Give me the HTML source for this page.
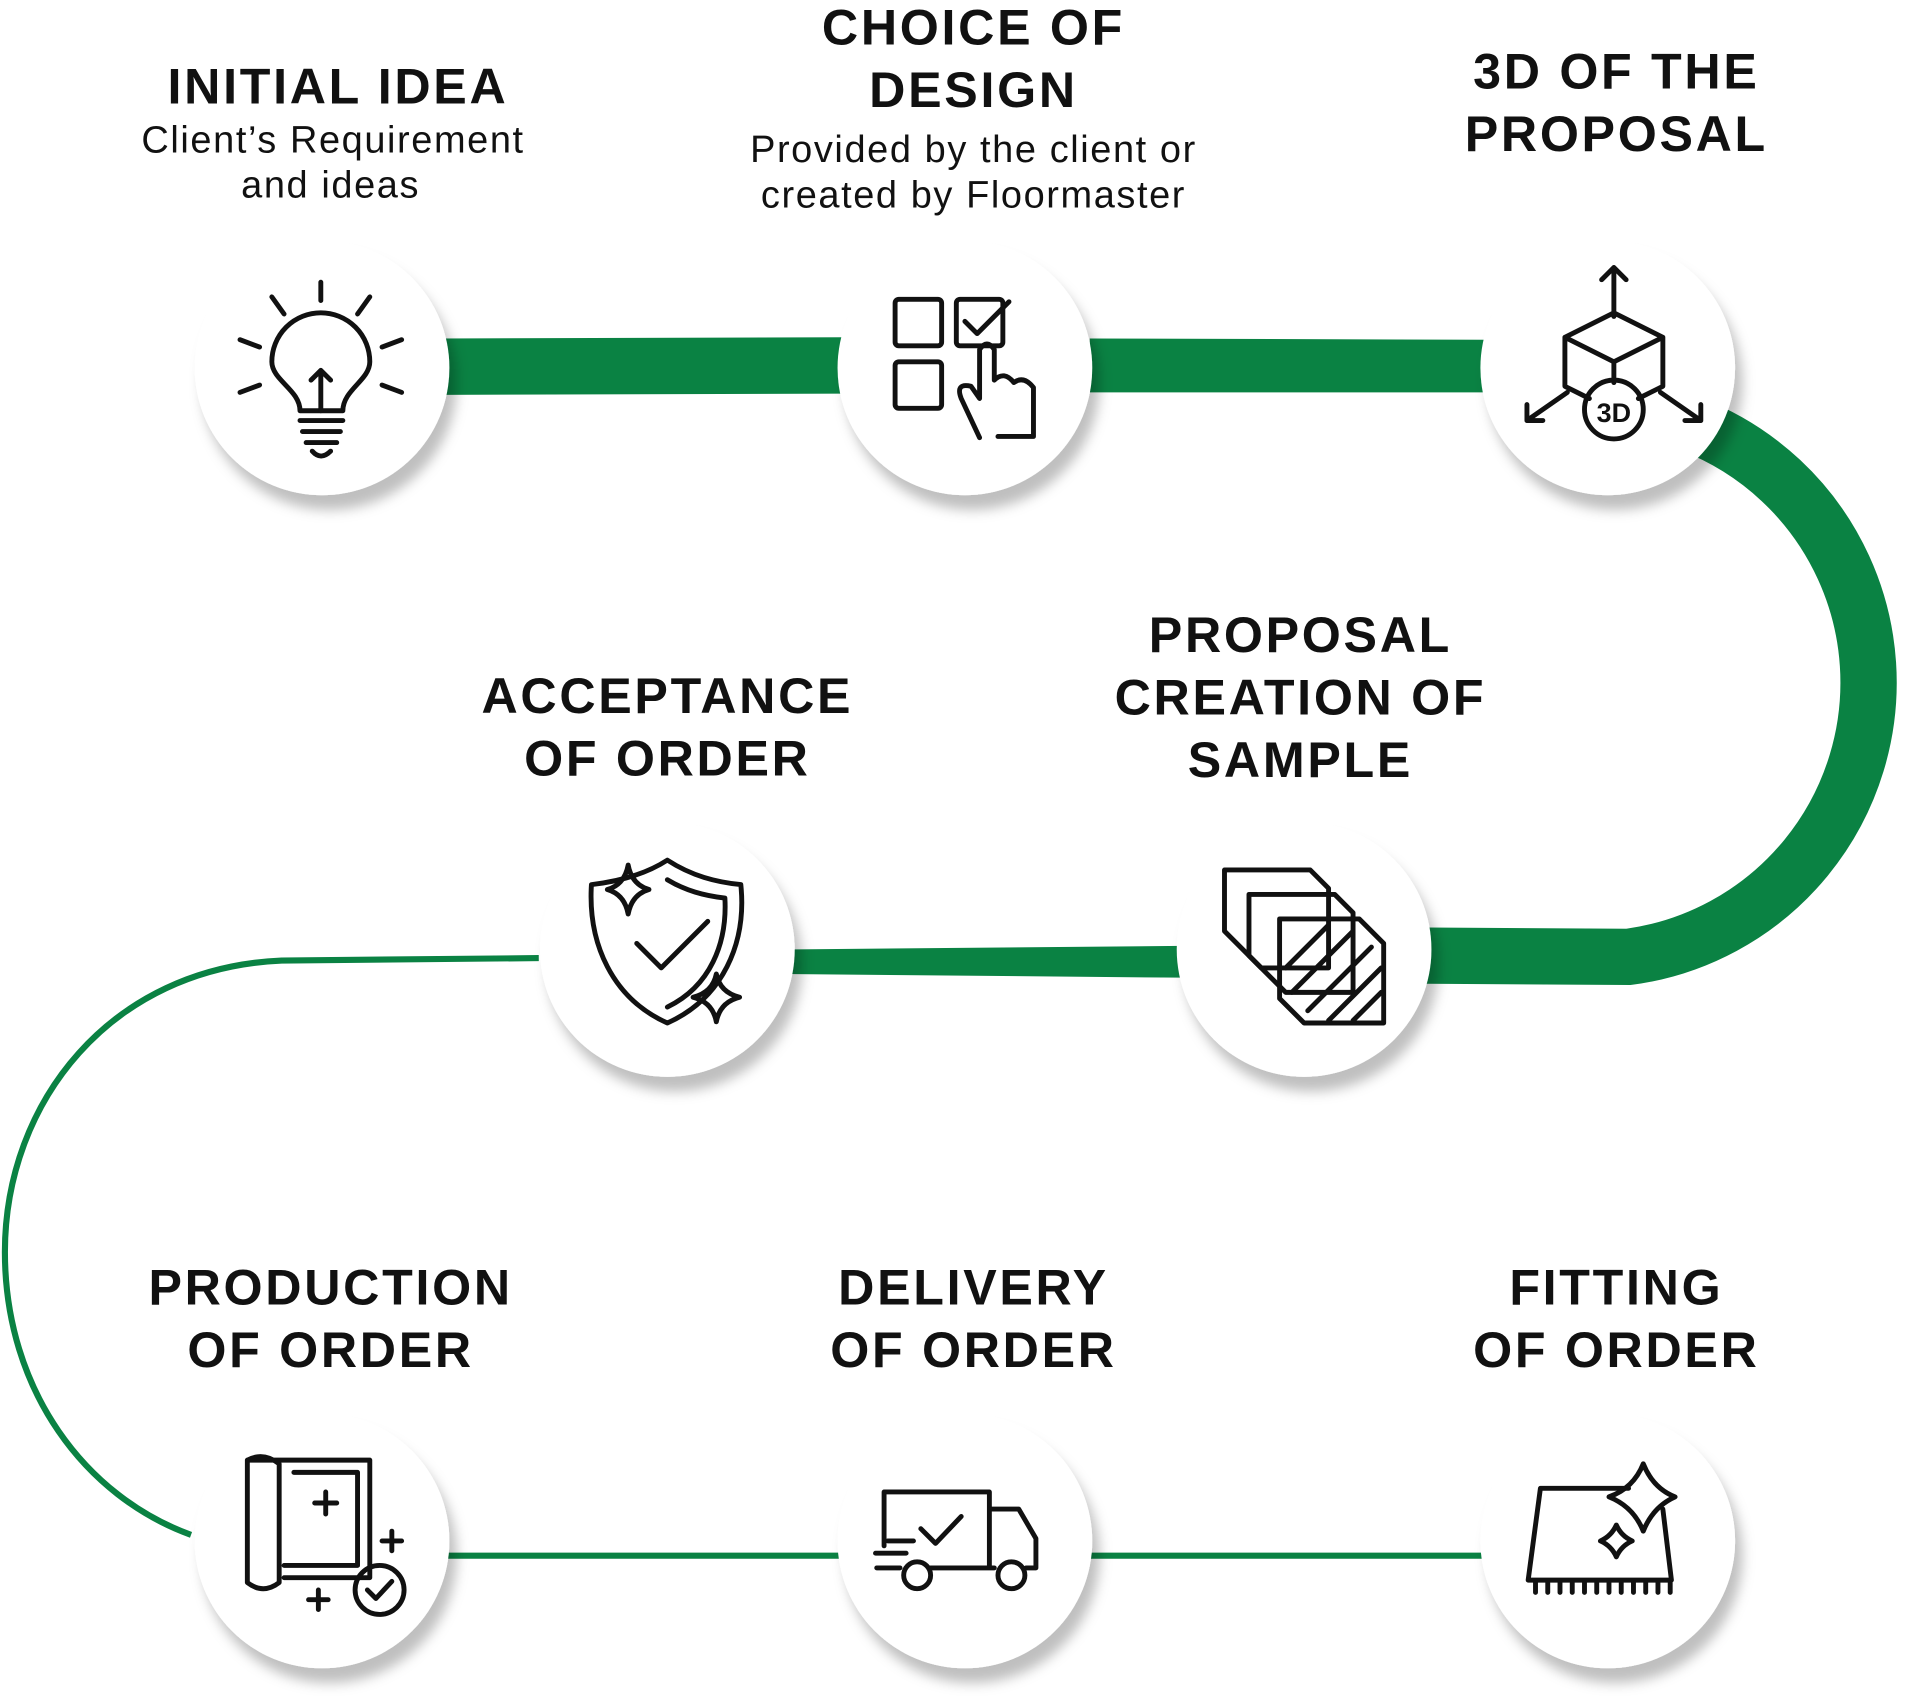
<!DOCTYPE html>
<html><head><meta charset="utf-8"><style>
html,body{margin:0;padding:0;background:#fff}
svg{display:block}
text{font-family:"Liberation Sans",Arial,sans-serif;fill:#111;text-anchor:middle}
.t{font-weight:bold;font-size:41px;letter-spacing:2.2px}
.s{font-size:31px;letter-spacing:1.3px}
.ic{fill:none;stroke:#111;stroke-width:4;stroke-linecap:round;stroke-linejoin:round}
</style></head><body>
<svg width="1920" height="1697" viewBox="0 0 1568 1385" xmlns="http://www.w3.org/2000/svg">
<defs>
<filter id="sh" x="-30%" y="-30%" width="160%" height="160%">
<feDropShadow dx="6" dy="12" stdDeviation="5" flood-color="#000" flood-opacity="0.25"/>
</filter>
</defs>
<path d="M360,276 L690,275 L690,321 L360,322 Z" fill="#0a8243"/>
<path d="M890,276 L1215,277 L1215,320 L890,320 Z" fill="#0a8243"/>
<path d="M1300,331 A226,226 0 0 1 1330,781 L1165,780" fill="none" stroke="#0a8243" stroke-width="46"/>
<path d="M640,775 L965,772 L965,798 L640,795 Z" fill="#0a8243"/>
<path d="M440,782 L230,784 C90,790 4,900 4,1022 C4,1135 70,1222 156,1253" fill="none" stroke="#0a8243" stroke-width="5"/>
<line x1="360" y1="1270" x2="690" y2="1270" stroke="#0a8243" stroke-width="5"/>
<line x1="890" y1="1270" x2="1215" y2="1270" stroke="#0a8243" stroke-width="5"/>
<g fill="#fff" filter="url(#sh)">
<circle cx="263" cy="300" r="104"/>
<circle cx="788" cy="300" r="104"/>
<circle cx="1313" cy="300" r="104"/>
<circle cx="545" cy="775" r="104"/>
<circle cx="1065" cy="775" r="104"/>
<circle cx="263" cy="1258" r="104"/>
<circle cx="788" cy="1258" r="104"/>
<circle cx="1313" cy="1258" r="104"/>
</g>
<text class="t" x="276" y="84">INITIAL IDEA</text>
<text class="s" x="272" y="124">Client’s Requirement</text>
<text class="s" x="270" y="161">and ideas</text>
<text class="t" x="795" y="36">CHOICE OF</text>
<text class="t" x="795" y="87">DESIGN</text>
<text class="s" x="795" y="132">Provided by the client or</text>
<text class="s" x="795" y="169">created by Floormaster</text>
<text class="t" x="1320" y="72">3D OF THE</text>
<text class="t" x="1320" y="123">PROPOSAL</text>
<text class="t" x="1062" y="532">PROPOSAL</text>
<text class="t" x="1062" y="583">CREATION OF</text>
<text class="t" x="1062" y="634">SAMPLE</text>
<text class="t" x="545" y="582">ACCEPTANCE</text>
<text class="t" x="545" y="633">OF ORDER</text>
<text class="t" x="270" y="1065">PRODUCTION</text>
<text class="t" x="270" y="1116">OF ORDER</text>
<text class="t" x="795" y="1065">DELIVERY</text>
<text class="t" x="795" y="1116">OF ORDER</text>
<text class="t" x="1320" y="1065">FITTING</text>
<text class="t" x="1320" y="1116">OF ORDER</text>
<g class="ic">
<path d="M245,335 C245,318 222,310 222,295 A40,40 0 1 1 302,295 C302,310 280,318 280,335 Z"/>
<path d="M245,343 H280 M247,352 H278 M250,361 H275 M255,368 Q262,376 270,368 M254,310 L262,302 L270,310 M262,302 V335"/>
<path d="M262,230 V245 M222,242 L232,256 M302,242 L292,256 M196,277 L212,283 M328,277 L312,283 M196,320 L212,314 M328,320 L312,314"/>
<rect x="731" y="244" width="38" height="38" rx="3"/><rect x="781" y="244" width="38" height="38" rx="3"/><rect x="731" y="295" width="38" height="38" rx="3"/>
<path d="M788,262 L798,272 L824,246"/>
<path d="M800,357 L785,325 Q780,312 793,315 L800,325 V285 Q806,276 812,285 V310 Q820,302 828,312 Q836,306 844,316 V356 H815"/>
<path d="M1318,218 V258 M1308,228 L1318,218 L1328,228 M1278,275 L1318,255 L1358,275 L1318,295 Z M1278,275 V315 L1298,325 M1358,275 V315 L1338,325 M1318,295 V312 M1280,320 L1247,343 M1356,320 L1389,343 M1247,330 V343 H1260 M1389,330 V343 H1376"/>
<circle cx="1318" cy="334" r="24"/>
<text x="1318" y="344" style="font-weight:bold;font-size:22px;stroke:none;fill:#111">3D</text>
<path d="M545,702 C565,715 585,720 605,722 C610,770 590,815 545,835 C500,815 480,770 483,722 C500,720 525,715 545,702 Z"/>
<path d="M545,718 C560,727 575,731 592,733 C594,770 580,805 545,822"/>
<path d="M520,770 L540,790 L578,752"/>
<path d="M513,706 Q516,722 530,726 Q516,730 513,746 Q510,730 496,726 Q510,722 513,706 Z"/>
<path d="M585,795 Q588,810 604,814 Q588,818 585,834 Q582,818 566,814 Q582,810 585,795 Z"/>
<path d="M1000,710 L1070,710 L1085,725 V790 L1030,790 L1000,760 Z"/>
<path d="M1020,730 L1090,730 L1105,745 V810 L1050,810 L1020,780 Z"/>
<path d="M1045,750 H1110 L1130,770 V835 H1065 L1045,815 Z"/>
<path d="M1050,790 L1085,755 M1055,810 L1105,760 M1068,825 L1120,773 M1085,833 L1128,790 M1105,833 L1128,810"/>
<path d="M202,1192 H302 V1288 H232 M202,1192 V1292 Q215,1302 228,1292 V1195 Q215,1185 202,1192 M240,1202 H292 V1278 H232"/>
<path d="M266,1218 V1236 M257,1227 H275 M320,1250 V1266 M312,1258 H328 M260,1298 V1314 M252,1306 H268"/>
<circle cx="310" cy="1298" r="20"/><path d="M300,1298 L307,1305 L320,1291"/>
<path d="M722,1218 H808 V1280 H760 M722,1218 V1262 M808,1232 H832 L846,1256 V1280 H838 M808,1280 H812 M735,1280 H716 M715,1268 H740 M725,1258 H746"/>
<path d="M752,1248 L764,1260 L785,1238"/>
<circle cx="749" cy="1286" r="11"/><circle cx="826" cy="1286" r="11"/>
<path d="M1258,1215 H1330 M1358,1232 L1365,1290 H1248 L1258,1215 M1254,1292 V1300 M1264,1292 V1300 M1274,1292 V1300 M1284,1292 V1300 M1294,1292 V1300 M1304,1292 V1300 M1314,1292 V1300 M1324,1292 V1300 M1334,1292 V1300 M1344,1292 V1300 M1354,1292 V1300 M1364,1292 V1300"/>
<path d="M1342,1195 Q1350,1215 1368,1222 Q1350,1230 1342,1250 Q1334,1230 1314,1222 Q1334,1215 1342,1195 Z"/>
<path d="M1320,1245 Q1324,1254 1333,1258 Q1324,1262 1320,1271 Q1316,1262 1307,1258 Q1316,1254 1320,1245 Z"/>
</g>
</svg>
</body></html>
